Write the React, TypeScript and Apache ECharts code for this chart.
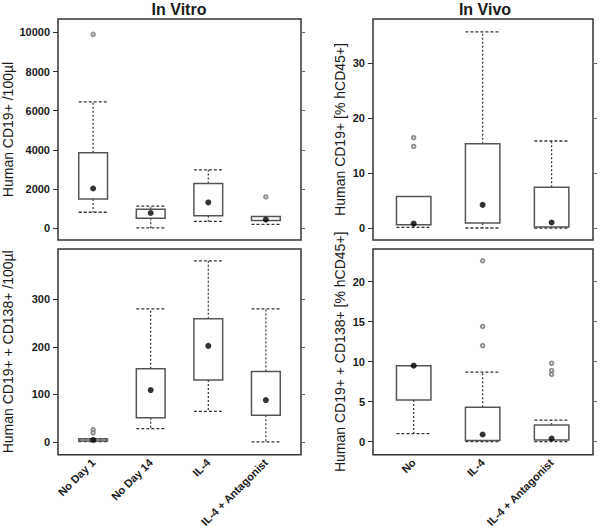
import React, { useEffect, useRef } from "react";
import * as echarts from "echarts";

// Categories
const vitroCategories = ["No Day 1", "No Day 14", "IL-4", "IL-4 + Antagonist"];
const vivoCategories = ["No", "IL-4", "IL-4 + Antagonist"];

// Boxes: [lower whisker, Q1, median, Q3, upper whisker]
const vitroCD19Boxes = [
  [820, 1500, 2030, 3850, 6450],
  [20, 510, 780, 970, 1130],
  [350, 640, 1320, 2280, 2980],
  [200, 400, 450, 600, 600],
];
const vitroCD19Outliers = [
  [1, 9900],
  [4, 1600],
];

const vivoCD19Boxes = [
  [0.1, 0.6, 0.8, 5.7, 5.7],
  [0, 0.9, 4.2, 15.3, 35.6],
  [0, 0.2, 1.0, 7.4, 15.8],
];
const vivoCD19Outliers = [
  [1, 16.4],
  [1, 14.8],
];

const vitroCD138Boxes = [
  [0.5, 2, 4, 6, 7],
  [28, 51, 109, 154, 280],
  [64, 130, 202, 259, 381],
  [0, 56, 88, 148, 280],
];
const vitroCD138Outliers = [
  [1, 25.7],
  [1, 19],
];

const vivoCD138Boxes = [
  [1.0, 5.2, 9.5, 9.5, 9.5],
  [0, 0.15, 0.9, 4.3, 8.7],
  [0, 0.2, 0.4, 2.1, 2.7],
];
const vivoCD138Outliers = [
  [2, 22.6],
  [2, 14.4],
  [2, 12.0],
  [3, 9.8],
  [3, 8.9],
  [3, 8.4],
];

// Tick labels
const vitroCD19Ticks = [0, 2000, 4000, 6000, 8000, 10000];
const vivoCD19Ticks = [0, 10, 20, 30];
const vitroCD138Ticks = [0, 100, 200, 300];
const vivoCD138Ticks = [0, 5, 10, 15, 20];

const FONT = "Liberation Sans, Arial, sans-serif";
const TEXT = "#1a1a1a";

function renderBox(params: any, api: any) {
  const x = api.value(0);
  const lo = api.value(1);
  const q1 = api.value(2);
  const q3 = api.value(4);
  const hi = api.value(5);
  const half = 0.25;
  const [xL, yQ3] = api.coord([x - half, q3]);
  const [xR, yQ1] = api.coord([x + half, q1]);
  const [cx, yHi] = api.coord([x, hi]);
  const [, yLo] = api.coord([x, lo]);
  const dotted = { stroke: "#333", lineWidth: 1.2, lineDash: [2, 2] };
  const dashed = { stroke: "#333", lineWidth: 1.3, lineDash: [3, 2] };
  return {
    type: "group",
    children: [
      { type: "line", shape: { x1: cx, y1: yQ3, x2: cx, y2: yHi }, style: dotted },
      { type: "line", shape: { x1: cx, y1: yQ1, x2: cx, y2: yLo }, style: dotted },
      { type: "line", shape: { x1: xL, y1: yHi, x2: xR, y2: yHi }, style: dashed },
      { type: "line", shape: { x1: xL, y1: yLo, x2: xR, y2: yLo }, style: dashed },
      {
        type: "rect",
        shape: { x: xL, y: yQ3, width: xR - xL, height: yQ1 - yQ3 },
        style: { fill: "#fff", stroke: "#555", lineWidth: 1.5 },
      },
    ],
  };
}

type Panel = {
  grid: { left: number; top: number; width: number; height: number };
  xMin: number;
  xMax: number;
  yMin: number;
  yMax: number;
  ticks: number[];
  boxes: number[][];
  outliers: number[][];
  categories: string[];
  showX: boolean;
  name: string;
  nameGap: number;
};

const panels: Panel[] = [
  {
    grid: { left: 58, top: 19, width: 243, height: 221 },
    xMin: 0.39, xMax: 4.61, yMin: -597, yMax: 10679,
    ticks: vitroCD19Ticks, boxes: vitroCD19Boxes, outliers: vitroCD19Outliers,
    categories: vitroCategories, showX: false,
    name: "Human CD19+ /100µl", nameGap: 43,
  },
  {
    grid: { left: 373, top: 19, width: 220, height: 221 },
    xMin: 0.41, xMax: 3.6, yMin: -2.18, yMax: 37.95,
    ticks: vivoCD19Ticks, boxes: vivoCD19Boxes, outliers: vivoCD19Outliers,
    categories: vivoCategories, showX: false,
    name: "Human CD19+ [% hCD45+]", nameGap: 26,
  },
  {
    grid: { left: 58, top: 249, width: 243, height: 213 },
    xMin: 0.39, xMax: 4.61, yMin: -27, yMax: 406,
    ticks: vitroCD138Ticks, boxes: vitroCD138Boxes, outliers: vitroCD138Outliers,
    categories: vitroCategories, showX: true,
    name: "Human CD19+ + CD138+ /100µl", nameGap: 43,
  },
  {
    grid: { left: 373, top: 249, width: 220, height: 213 },
    xMin: 0.41, xMax: 3.6, yMin: -1.62, yMax: 24.07,
    ticks: vivoCD138Ticks, boxes: vivoCD138Boxes, outliers: vivoCD138Outliers,
    categories: vivoCategories, showX: true,
    name: "Human CD19+ + CD138+ [% hCD45+]", nameGap: 26,
  },
];

function buildOption() {
  const grid: any[] = [];
  const xAxis: any[] = [];
  const yAxis: any[] = [];
  const series: any[] = [];
  panels.forEach((p, i) => {
    grid.push({
      ...p.grid,
      show: true,
      borderColor: "#333",
      borderWidth: 1.5,
      backgroundColor: "transparent",
      containLabel: false,
    });
    const catValues = p.categories.map((_, k) => k + 1);
    xAxis.push({
      gridIndex: i,
      type: "value",
      min: p.xMin,
      max: p.xMax,
      axisLine: { show: false },
      axisTick: { show: false },
      splitLine: { show: false },
      axisLabel: p.showX
        ? {
            show: true,
            customValues: catValues,
            formatter: (v: number) => p.categories[Math.round(v) - 1] || "",
            rotate: 45,
            fontSize: 11,
            fontWeight: "bold",
            fontFamily: FONT,
            color: TEXT,
            margin: 6,
          }
        : { show: false },
    });
    yAxis.push({
      gridIndex: i,
      type: "value",
      position: "left",
      min: p.yMin,
      max: p.yMax,
      axisLine: { show: false },
      splitLine: { show: false },
      axisTick: {
        show: true,
        customValues: p.ticks,
        length: 5,
        lineStyle: { color: "#333", width: 1 },
      },
      axisLabel: {
        customValues: p.ticks,
        formatter: (v: number) => String(v),
        fontSize: 11,
        fontWeight: "bold",
        fontFamily: FONT,
        color: TEXT,
        margin: 8,
      },
      name: p.name,
      nameLocation: "middle",
      nameGap: p.nameGap,
      nameTextStyle: { fontSize: 14, fontFamily: FONT, color: TEXT },
    });
    yAxis.push({
      gridIndex: i,
      type: "value",
      position: "right",
      min: p.yMin,
      max: p.yMax,
      axisLine: { show: false },
      splitLine: { show: false },
      axisTick: {
        show: true,
        customValues: p.ticks,
        length: 4,
        lineStyle: { color: "#666", width: 1 },
      },
      axisLabel: { show: false },
    });
    const yLeft = i * 2;
    series.push({
      type: "custom",
      xAxisIndex: i,
      yAxisIndex: yLeft,
      renderItem: renderBox,
      encode: { x: 0, y: [1, 2, 3, 4, 5] },
      data: p.boxes.map((b, k) => [k + 1, ...b]),
      z: 2,
    });
    series.push({
      type: "scatter",
      xAxisIndex: i,
      yAxisIndex: yLeft,
      symbol: "circle",
      symbolSize: 6,
      itemStyle: { color: "#000" },
      data: p.boxes.map((b, k) => [k + 1, b[2]]),
      z: 4,
    });
    series.push({
      type: "scatter",
      xAxisIndex: i,
      yAxisIndex: yLeft,
      symbol: "emptyCircle",
      symbolSize: 3.5,
      itemStyle: { color: "#777", borderWidth: 0.8 },
      data: p.outliers,
      z: 4,
    });
  });

  return {
    animation: false,
    backgroundColor: "#fff",
    textStyle: { fontFamily: FONT },
    grid,
    xAxis,
    yAxis,
    series,
    graphic: [
      {
        type: "text",
        x: 179,
        y: 9,
        style: {
          text: "In Vitro",
          align: "center",
          verticalAlign: "middle",
          fontSize: 16,
          fontWeight: "bold",
          fontFamily: FONT,
          fill: TEXT,
        },
      },
      {
        type: "text",
        x: 485,
        y: 9,
        style: {
          text: "In Vivo",
          align: "center",
          verticalAlign: "middle",
          fontSize: 16,
          fontWeight: "bold",
          fontFamily: FONT,
          fill: TEXT,
        },
      },
    ],
  };
}

export default function App() {
  const ref = useRef<HTMLDivElement>(null);
  useEffect(() => {
    if (!ref.current) return;
    const chart = echarts.init(ref.current, undefined, { renderer: "svg" });
    chart.setOption(buildOption() as any);
    return () => chart.dispose();
  }, []);
  return (
    <div
      ref={ref}
      style={{ position: "fixed", left: 0, top: 0, width: 600, height: 530, background: "#fff" }}
    />
  );
}
